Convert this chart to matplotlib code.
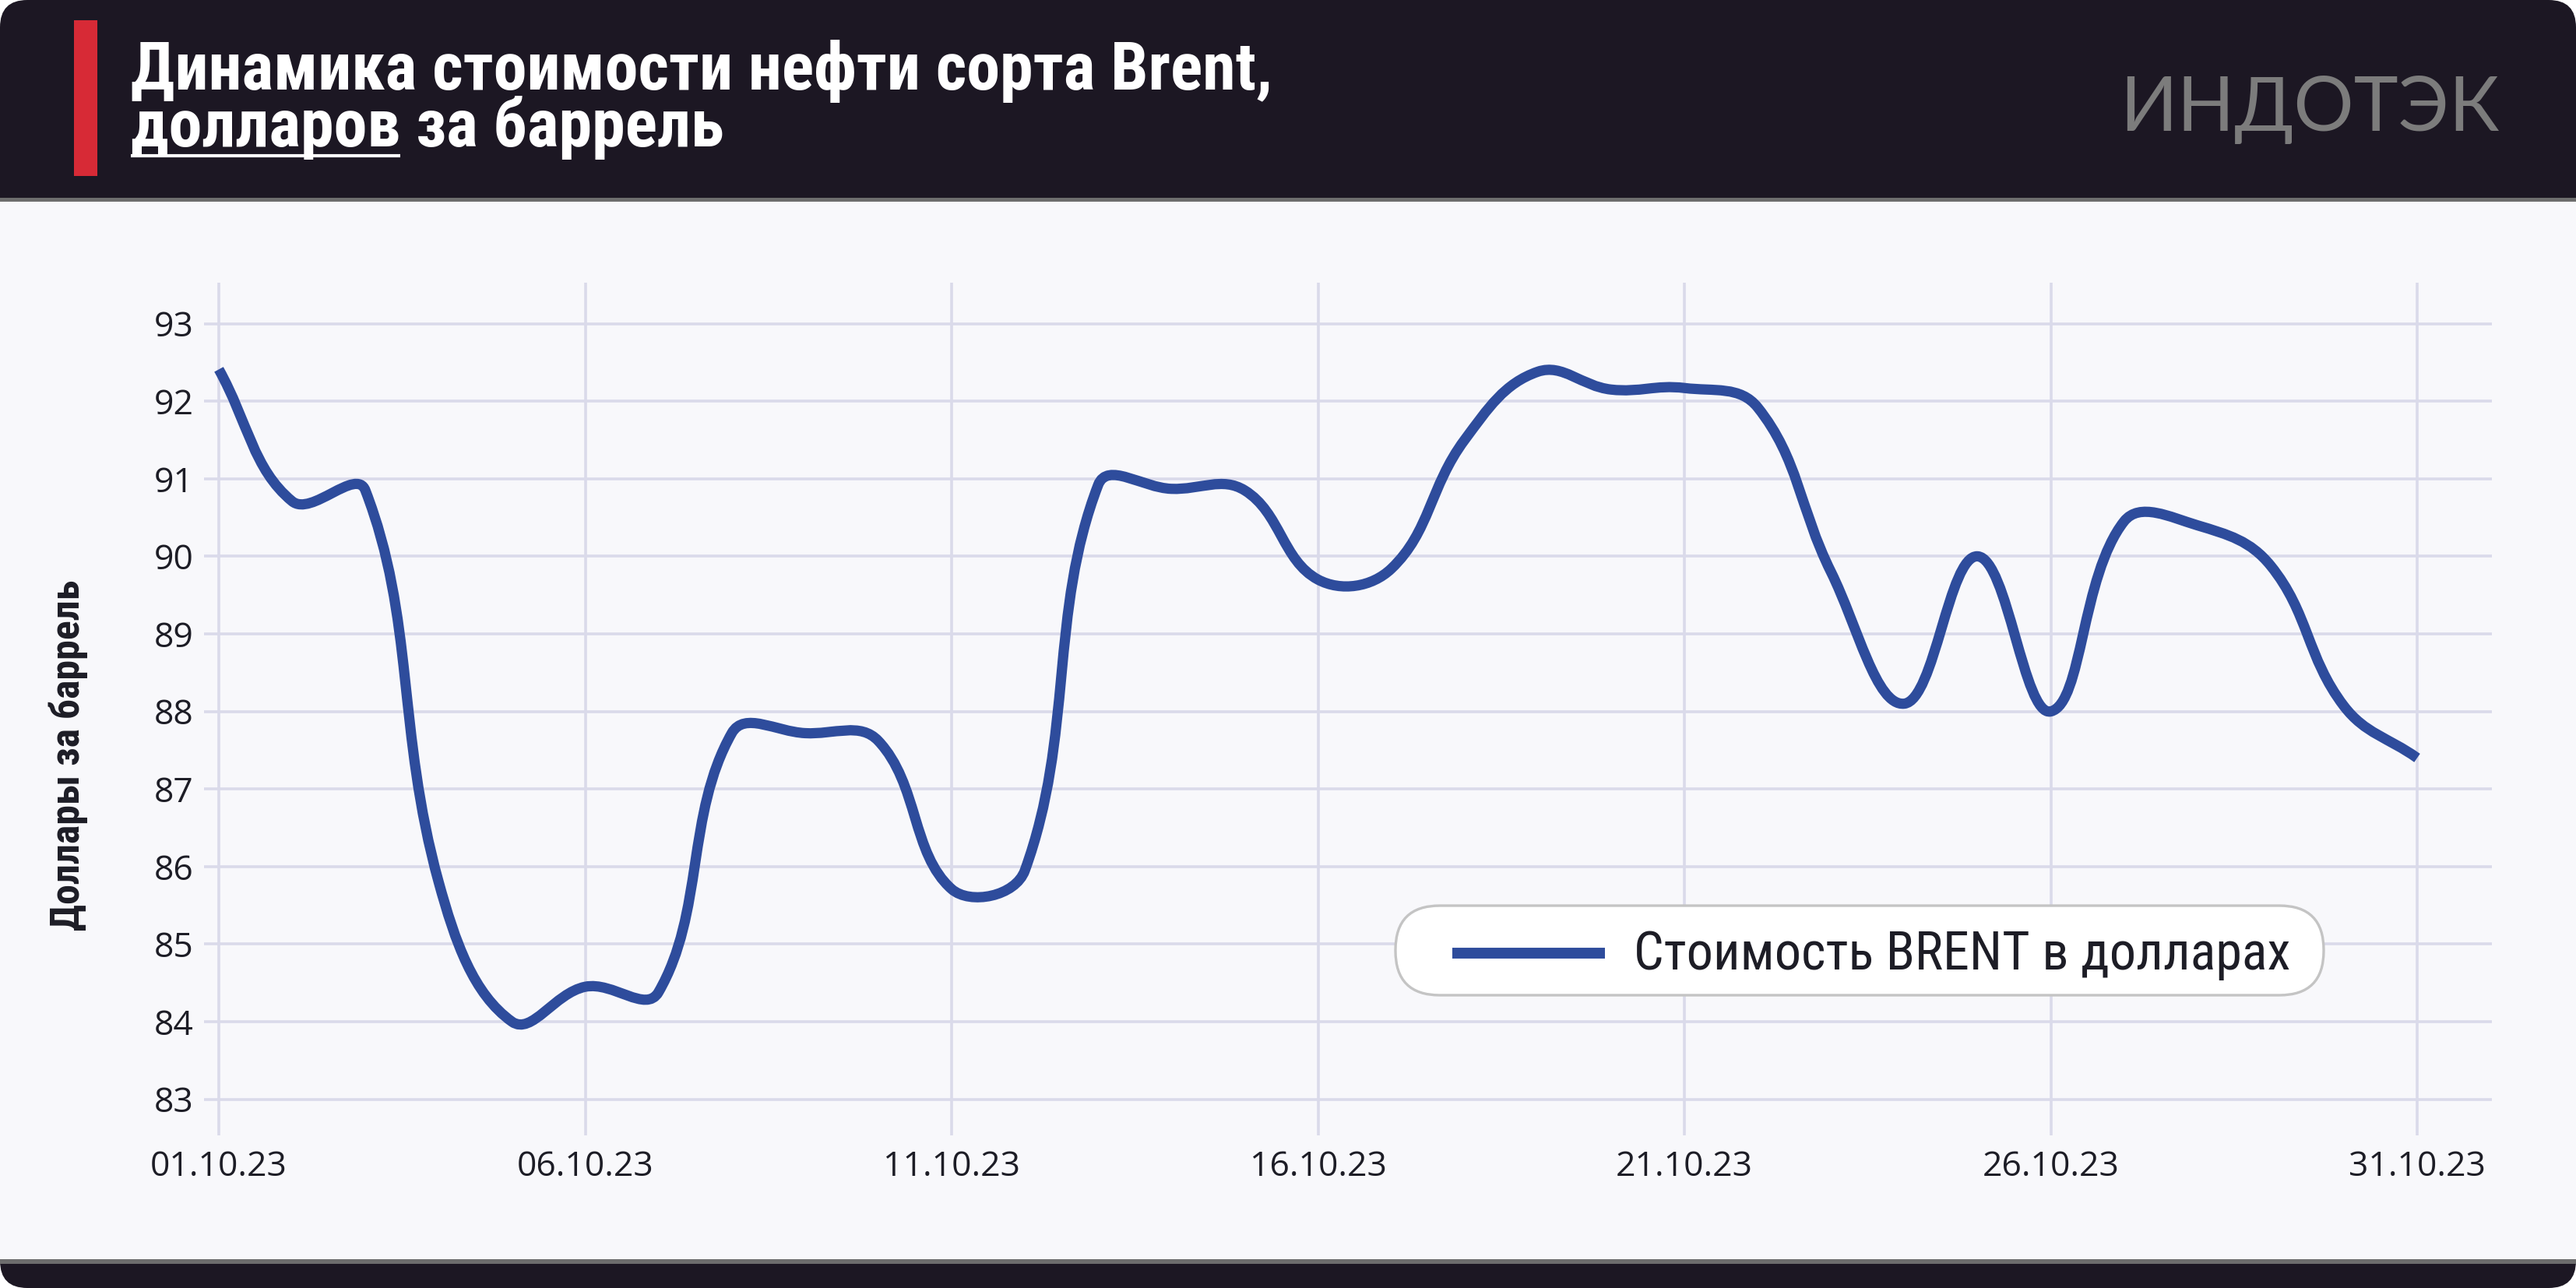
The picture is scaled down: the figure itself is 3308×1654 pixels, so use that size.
import numpy as np
import matplotlib
matplotlib.use("Agg")
import matplotlib.pyplot as plt
import matplotlib.font_manager as fm
from matplotlib.path import Path
from matplotlib.patches import PathPatch, FancyBboxPatch, Rectangle
from matplotlib.lines import Line2D

## data (Brent, USD per barrel, October 2023)
days = list(range(1, 32))
price = [92.41, 90.71, 90.85, 85.80, 84.00, 84.45, 84.38, 87.72, 87.72, 87.62,
         85.71, 85.95, 90.92, 90.87, 90.85, 89.70, 89.84, 91.50, 92.38, 92.15,
         92.17, 91.92, 89.80, 88.10, 90.00, 88.00, 90.45, 90.40, 89.88, 88.07,
         87.40]
tick_days = [1, 6, 11, 16, 21, 26, 31]
tick_labels = ["01.10.23", "06.10.23", "11.10.23", "16.10.23", "21.10.23", "26.10.23", "31.10.23"]
y_ticks = list(range(83, 94))

title_1 = "Динамика стоимости нефти сорта Brent,"
title_2 = "долларов за баррель"
title_under = "долларов"
y_label = "Доллары за баррель"
legend_label = "Стоимость BRENT в долларах"
logo = "ИНДОТЭК"

## colours
DARK = "#1c1723"
LIGHT = "#f8f8fb"
GREY_BAR = "#6d6d6d"
RED = "#d72a36"
BLUE = "#2e4c9c"
GRID = "#dadaea"
INK = "#1d1d26"

## fonts: pick what is installed
avail = {f.name for f in fm.fontManager.ttflist}
def pick(*names):
    for n in names:
        if n in avail:
            return n
    return "DejaVu Sans"
COND = pick("Liberation Sans Narrow", "DejaVu Sans Condensed", "Roboto Condensed", "Roboto")
REG = pick("Open Sans", "Noto Sans", "DejaVu Sans")
LOGO = pick("Lato", "Inter", "DejaVu Sans")

W, H = 3308, 1654
fig = plt.figure(figsize=(W / 100, H / 100), dpi=100)
fig.patch.set_facecolor("white")
renderer = fig.canvas.get_renderer()

def extent(t):
    return t.get_window_extent(renderer=renderer)

def fit(t, width, vertical=False):
    bb = extent(t)
    size = bb.height if vertical else bb.width
    t.set_fontsize(t.get_fontsize() * width / size)
    return t

## background layer in pixel coordinates (y down)
bg = fig.add_axes([0, 0, 1, 1], zorder=0)
bg.set_xlim(0, W)
bg.set_ylim(H, 0)
bg.axis("off")
bg.add_patch(FancyBboxPatch((0, 0), W, H, boxstyle="round,pad=0,rounding_size=35",
                            fc=DARK, ec="none"))
bg.add_patch(Rectangle((0, 254), W, 5, fc=GREY_BAR, ec="none"))
bg.add_patch(Rectangle((0, 259), W, 1358, fc=LIGHT, ec="none"))
bg.add_patch(Rectangle((0, 1617), W, 6, fc=GREY_BAR, ec="none"))

## main chart
ax_left, ax_right, ax_top, ax_bottom = 262, 3200, 363, 1458
XLIM = (0.798, 32.02)
YLIM = (82.534, 93.528)
ax = fig.add_axes([ax_left / W, 1 - ax_bottom / H, (ax_right - ax_left) / W,
                   (ax_bottom - ax_top) / H], zorder=1)
ax.set_facecolor("none")
ax.set_xlim(*XLIM)
ax.set_ylim(*YLIM)
for s in ax.spines.values():
    s.set_visible(False)
ax.set_xticks(tick_days)
ax.set_xticklabels(tick_labels)
ax.set_yticks(y_ticks)
ax.set_yticklabels([str(v) for v in y_ticks])
ax.tick_params(axis="both", length=0, labelsize=32, labelcolor=INK)
ax.tick_params(axis="y", pad=9.4)
ax.tick_params(axis="x", pad=13.5)
for lab in ax.get_xticklabels() + ax.get_yticklabels():
    lab.set_fontfamily(REG)
ax.grid(True, color=GRID, lw=2.6)
ax.set_axisbelow(True)

## smooth line like a tension spline (bezier control points from neighbours)
def tension_path(ax, xs, ys, tension=0.4):
    pts = ax.transData.transform(np.column_stack([xs, ys]))
    n = len(pts)
    cp_prev = pts.copy()
    cp_next = pts.copy()
    for i in range(n):
        cur = pts[i]
        prev = pts[i - 1] if i > 0 else cur
        nxt = pts[i + 1] if i < n - 1 else cur
        d01 = np.hypot(*(cur - prev))
        d12 = np.hypot(*(nxt - cur))
        tot = d01 + d12
        s01 = d01 / tot if tot else 0
        s12 = d12 / tot if tot else 0
        cp_prev[i] = cur - tension * s01 * (nxt - prev)
        cp_next[i] = cur + tension * s12 * (nxt - prev)
    verts = [pts[0]]
    codes = [Path.MOVETO]
    for i in range(n - 1):
        verts += [cp_next[i], cp_prev[i + 1], pts[i + 1]]
        codes += [Path.CURVE4] * 3
    verts = ax.transData.inverted().transform(np.array(verts))
    return Path(verts, codes)

ax.add_patch(PathPatch(tension_path(ax, days, price), fc="none", ec=BLUE, lw=9.5,
                       capstyle="butt", joinstyle="round"))
ax.set_xlim(*XLIM)
ax.set_ylim(*YLIM)

## foreground layer: header texts, y label, legend
fg = fig.add_axes([0, 0, 1, 1], zorder=3)
fg.set_xlim(0, W)
fg.set_ylim(H, 0)
fg.axis("off")

fg.add_patch(Rectangle((95, 26), 30, 200, fc=RED, ec="none"))

## two-line title as one text; baseline of the last line at y=188, pitch 73 px
title_kw = dict(fontweight="bold", family=COND, va="baseline", ha="left")
title = fg.text(168, 188, title_1 + "\n" + title_2, color="white", fontsize=60,
                linespacing=1.0, **title_kw)
fit(title, 1466)
fs = title.get_fontsize()
one = fg.text(168, 188, title_1, fontsize=fs, **title_kw)
h_one = extent(one).height
one.remove()
title.set_linespacing(1.0)
p1 = extent(title).height - h_one
title.set_linespacing(2.0)
p2 = extent(title).height - h_one
slope = p2 - p1
title.set_linespacing(max(0.3, 1.0 + (73 - p1) / slope))

tmp = fg.text(168, 188, title_under, fontsize=fs, **title_kw)
u_width = extent(tmp).width
tmp.remove()
x0 = extent(title).x0
fg.plot([x0, x0 + u_width], [200, 200], color="white", lw=3, solid_capstyle="butt")

lg = fg.text(2722, 168, logo, color="#7c7c7c", fontsize=70, fontweight="normal",
             family=LOGO, va="baseline", ha="left")
fit(lg, 487)

yl = fg.text(88, 970, y_label, rotation=90, color=INK, fontsize=30, fontweight="bold",
             family=COND, va="center", ha="center")
fit(yl, 450, vertical=True)

fg.add_patch(FancyBboxPatch((1792, 1163), 1192, 115,
                            boxstyle="round,pad=0,rounding_size=57",
                            fc="white", ec="#c4c4c4", lw=2.4))
fg.add_line(Line2D([1865, 2061], [1224, 1224], color=BLUE, lw=10,
                   solid_capstyle="butt"))
lt = fg.text(2098, 1245, legend_label, color=INK, fontsize=40, family=COND,
             va="baseline", ha="left")
fit(lt, 843)

fig.savefig("out.png", dpi=100, facecolor="white")
